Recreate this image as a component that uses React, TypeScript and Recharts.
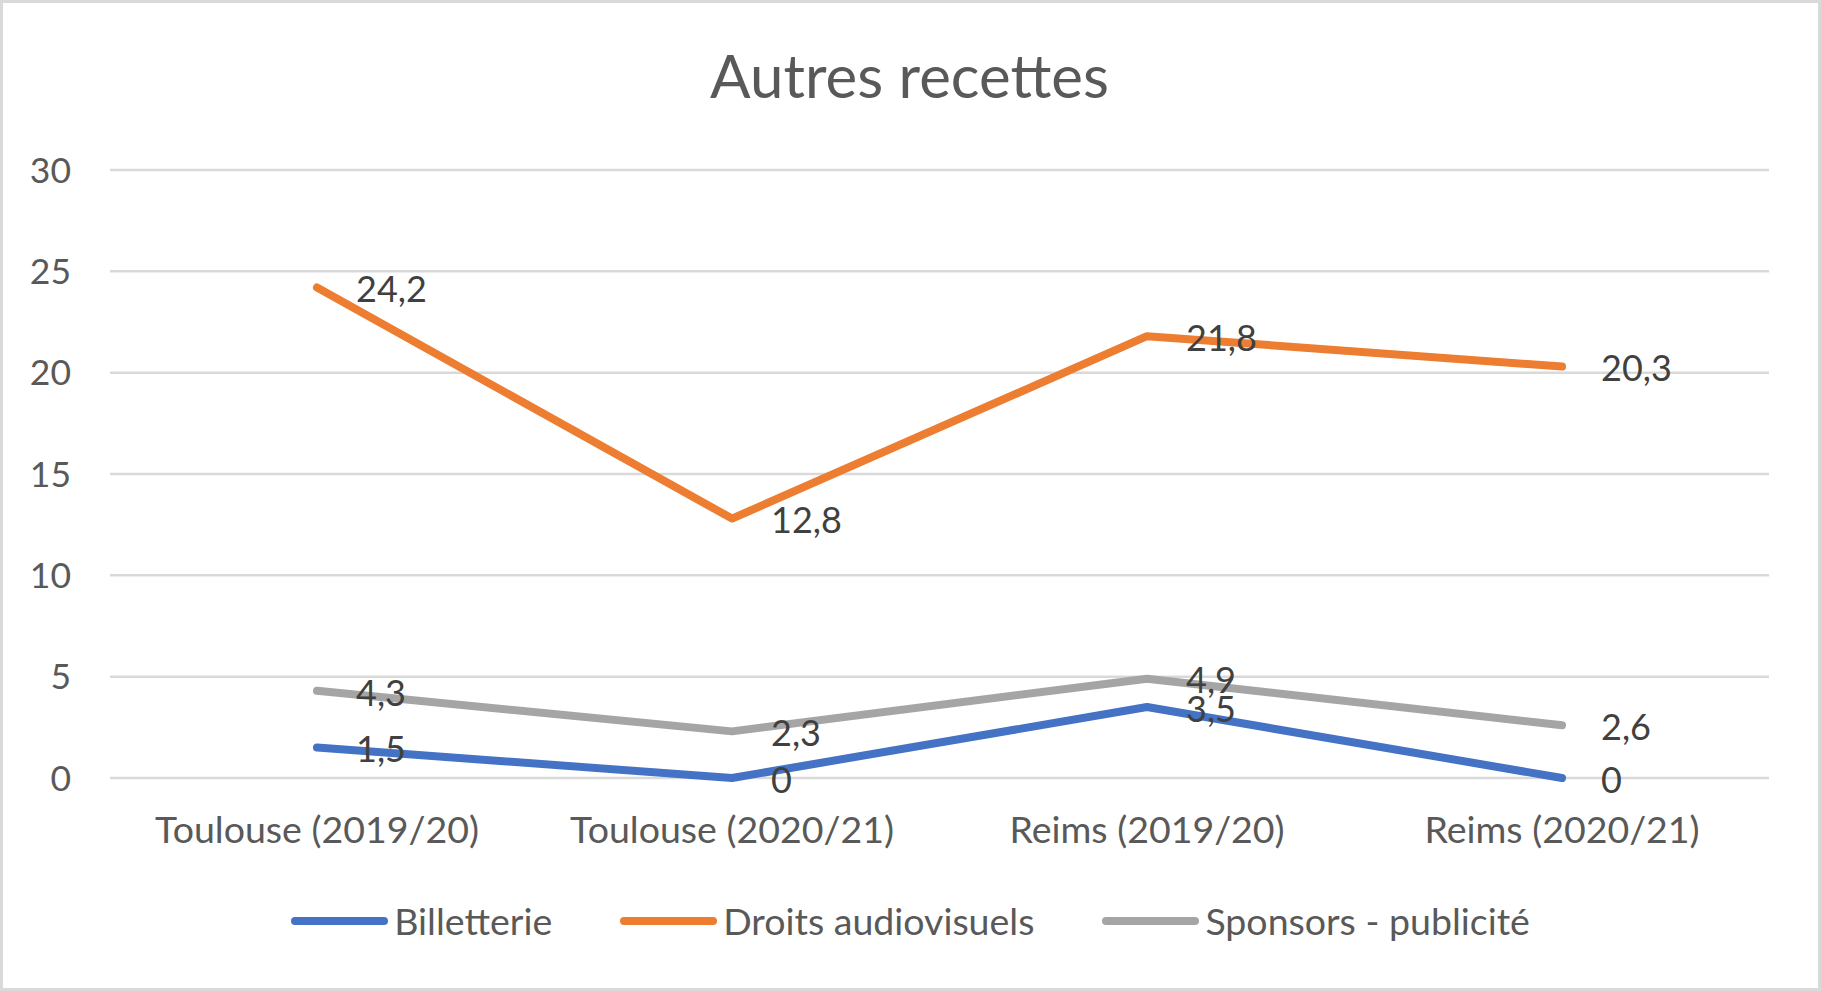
import React from 'react';
import { LineChart, Line, XAxis, YAxis, CartesianGrid, LabelList, Legend } from 'recharts';

const categories = ['Toulouse (2019/20)', 'Toulouse (2020/21)', 'Reims (2019/20)', 'Reims (2020/21)'];
const billetterie = [1.5, 0, 3.5, 0];
const droitsAudiovisuels = [24.2, 12.8, 21.8, 20.3];
const sponsorsPublicite = [4.3, 2.3, 4.9, 2.6];
const yTicks = [0, 5, 10, 15, 20, 25, 30];
const title = 'Autres recettes';

const series = [
  { key: 'billetterie', name: 'Billetterie', color: '#4472C4', values: billetterie },
  { key: 'droits', name: 'Droits audiovisuels', color: '#ED7D31', values: droitsAudiovisuels },
  { key: 'sponsors', name: 'Sponsors - publicité', color: '#A5A5A5', values: sponsorsPublicite },
];

const data = categories.map((c, i) => {
  const row: any = { category: c };
  series.forEach((s) => (row[s.key] = s.values[i]));
  return row;
});

const FONT = 'Lato, "Open Sans", sans-serif';
const W = 1821;
const H = 991;

const renderLabel = (props: any) => {
  const { x, y, value } = props;
  return (
    <text
      x={x + 39}
      y={y + 2}
      dy="0.355em"
      textAnchor="start"
      fill="#404040"
      fontFamily={FONT}
      fontSize={36}
    >
      {String(value).replace('.', ',')}
    </text>
  );
};

const LegendContent = () => (
  <div
    style={{
      display: 'flex',
      justifyContent: 'center',
      alignItems: 'center',
      gap: 68,
      height: 40,
      fontFamily: FONT,
      fontSize: 37.5,
      color: '#595959',
    }}
  >
    {series.map((s) => (
      <div key={s.key} style={{ display: 'flex', alignItems: 'center' }}>
        <div style={{ width: 97, height: 8, borderRadius: 4, background: s.color }} />
        <span style={{ marginLeft: 6, lineHeight: '40px', whiteSpace: 'nowrap' }}>{s.name}</span>
      </div>
    ))}
  </div>
);

export default function App() {
  return (
    <div style={{ position: 'absolute', left: 0, top: 0, width: W, height: H, background: '#fff' }}>
      <LineChart
        width={W}
        height={H}
        data={data}
        margin={{ top: 170, right: 52, bottom: 113, left: 0 }}
      >
        <CartesianGrid vertical={false} stroke="#D9D9D9" strokeWidth={2.5} />
        <XAxis
          dataKey="category"
          height={60}
          axisLine={false}
          tickLine={false}
          tickSize={0}
          tickMargin={38}
          padding={{ left: 207, right: 207 }}
          interval={0}
          tick={{ fill: '#595959', fontFamily: FONT, fontSize: 37.5 }}
        />
        <YAxis
          width={110}
          domain={[0, 30]}
          ticks={yTicks}
          axisLine={false}
          tickLine={false}
          tickSize={0}
          tickMargin={39}
          tick={{ fill: '#595959', fontFamily: FONT, fontSize: 35.5 }}
        />
        {series.map((s) => (
          <Line
            key={s.key}
            type="linear"
            dataKey={s.key}
            name={s.name}
            stroke={s.color}
            strokeWidth={8}
            strokeLinecap="round"
            strokeLinejoin="round"
            dot={false}
            activeDot={false}
            isAnimationActive={false}
          >
            <LabelList dataKey={s.key} content={renderLabel} />
          </Line>
        ))}
        <Legend
          verticalAlign="bottom"
          content={<LegendContent />}
          wrapperStyle={{ left: 0, width: W, bottom: 50 }}
        />
      </LineChart>
      <div
        style={{
          position: 'absolute',
          left: 0,
          top: 45,
          width: W - 2,
          textAlign: 'center',
          fontFamily: FONT,
          fontSize: 60,
          lineHeight: '60px',
          color: '#595959',
          pointerEvents: 'none',
        }}
      >
        {title}
      </div>
      <div
        style={{
          position: 'absolute',
          left: 0,
          top: 0,
          width: W,
          height: H,
          boxSizing: 'border-box',
          border: '3px solid #D9D9D9',
          pointerEvents: 'none',
        }}
      />
    </div>
  );
}
